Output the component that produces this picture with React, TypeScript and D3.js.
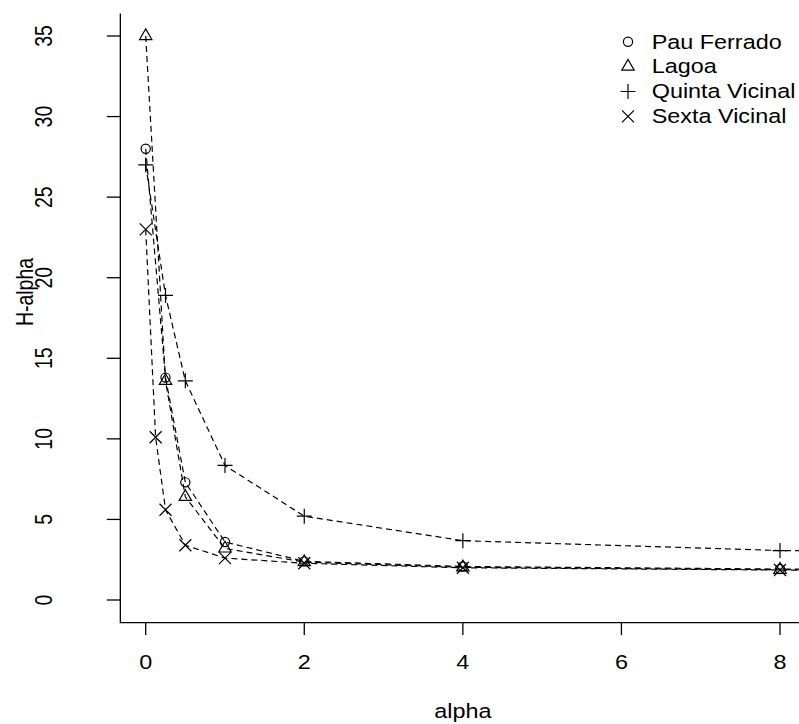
import React from "react";
import * as d3 from "d3";

// Entropy profiles H-alpha for four sites, by order alpha
const alphaMain = [0, 0.25, 0.5, 1, 2, 4, 8, 16];
const alphaSexta = [0, 0.125, 0.25, 0.5, 1, 2, 4, 8, 16];
const pauFerrado = [28.0, 13.8, 7.3, 3.6, 2.4, 2.08, 1.92, 1.8];
const lagoa = [35.0, 13.6, 6.4, 3.2, 2.35, 2.03, 1.88, 1.75];
const quintaVicinal = [27.0, 18.9, 13.6, 8.35, 5.2, 3.68, 3.07, 2.75];
const sextaVicinal = [23.0, 10.1, 5.6, 3.4, 2.6, 2.28, 2.0, 1.86, 1.75];

const seriesNames = ["Pau Ferrado", "Lagoa", "Quinta Vicinal", "Sexta Vicinal"];
const seriesSymbols = ["circle", "triangle", "plus", "cross"];
const xTicks = [0, 2, 4, 6, 8];
const yTicks = [0, 5, 10, 15, 20, 25, 30, 35];

const W = 799;
const H = 724;
const FONT = "'Liberation Sans', Arial, Helvetica, sans-serif";
const FS = 19.5;
const SX = 1.2; // horizontal text stretch

const x = d3.scaleLinear().domain([0, 8]).range([145.7, 780]);
const y = d3.scaleLinear().domain([0, 35]).range([600, 36]);
const xLo = x(-0.32);
const xHi = x(8.32);
const yLo = y(-1.4);
const yHi = y(36.4);

const R = 4.6;

function Marker({ kind, cx, cy }: { kind: string; cx: number; cy: number }) {
  const st = { fill: "none", stroke: "#000", strokeWidth: 1.2 };
  if (kind === "circle") return <circle cx={cx} cy={cy} r={R} {...st} />;
  if (kind === "triangle") {
    const r = 1.555 * R;
    const xc = 1.347 * R;
    const yc = 0.777 * R;
    return (
      <path
        d={`M${cx},${cy - r}L${cx + xc},${cy + yc}L${cx - xc},${cy + yc}Z`}
        {...st}
      />
    );
  }
  if (kind === "plus") {
    const h = 7.5;
    return <path d={`M${cx - h},${cy}H${cx + h}M${cx},${cy - h}V${cy + h}`} {...st} />;
  }
  const h = 6;
  return (
    <path
      d={`M${cx - h},${cy - h}L${cx + h},${cy + h}M${cx - h},${cy + h}L${cx + h},${cy - h}`}
      {...st}
    />
  );
}

function Label({
  tx,
  ty,
  anchor,
  rotate,
  children,
}: {
  tx: number;
  ty: number;
  anchor: "start" | "middle" | "end";
  rotate?: boolean;
  children: React.ReactNode;
}) {
  return (
    <text
      transform={`translate(${tx},${ty}) scale(${SX},1)${rotate ? " rotate(-90)" : ""}`}
      textAnchor={anchor}
      fontFamily={FONT}
      fontSize={FS}
      fill="#000"
    >
      {children}
    </text>
  );
}

export default function App() {
  const series = [
    { xs: alphaMain, ys: pauFerrado, sym: seriesSymbols[0] },
    { xs: alphaMain, ys: lagoa, sym: seriesSymbols[1] },
    { xs: alphaMain, ys: quintaVicinal, sym: seriesSymbols[2] },
    { xs: alphaSexta, ys: sextaVicinal, sym: seriesSymbols[3] },
  ];
  const line = d3
    .line<[number, number]>()
    .x((d) => x(d[0]))
    .y((d) => y(d[1]));

  const legendRowY = [41.7, 66.6, 91.5, 116.4];

  return (
    <svg
      width={W}
      height={H}
      viewBox={`0 0 ${W} ${H}`}
      style={{ position: "absolute", left: 0, top: 0, display: "block", background: "#fff" }}
    >
      <defs>
        <clipPath id="plotArea">
          <rect x={xLo} y={yHi} width={xHi - xLo} height={yLo - yHi} />
        </clipPath>
      </defs>
      <rect x={0} y={0} width={W} height={H} fill="#fff" />

      <g clipPath="url(#plotArea)">
        {series.map((s, i) => (
          <g key={i}>
            <path
              d={line(s.xs.map((v, j) => [v, s.ys[j]] as [number, number])) || ""}
              fill="none"
              stroke="#000"
              strokeWidth={1.2}
              strokeDasharray="6,4"
            />
            {s.xs.map((v, j) => (
              <Marker key={j} kind={s.sym} cx={x(v)} cy={y(s.ys[j])} />
            ))}
          </g>
        ))}
      </g>

      {/* L-shaped frame */}
      <path d={`M${xLo},${yHi}V${yLo}H${xHi}`} fill="none" stroke="#000" strokeWidth={1.3} />

      {/* x axis */}
      {xTicks.map((t) => (
        <g key={t}>
          <line x1={x(t)} x2={x(t)} y1={yLo} y2={yLo + 12.5} stroke="#000" strokeWidth={1.3} />
          <Label tx={x(t)} ty={669} anchor="middle">
            {t}
          </Label>
        </g>
      ))}
      {/* y axis */}
      {yTicks.map((t) => (
        <g key={t}>
          <line x1={xLo - 13.5} x2={xLo} y1={y(t)} y2={y(t)} stroke="#000" strokeWidth={1.3} />
          <Label tx={52} ty={y(t)} anchor="middle" rotate>
            {t}
          </Label>
        </g>
      ))}

      <Label tx={x(4)} ty={718} anchor="middle">
        alpha
      </Label>
      <Label tx={33} ty={292} anchor="middle" rotate>
        H-alpha
      </Label>

      {/* legend */}
      {seriesNames.map((name, i) => (
        <g key={name}>
          <Marker kind={seriesSymbols[i]} cx={628} cy={legendRowY[i]} />
          <Label tx={651.7} ty={legendRowY[i] + 6.8} anchor="start">
            {name}
          </Label>
        </g>
      ))}
    </svg>
  );
}
